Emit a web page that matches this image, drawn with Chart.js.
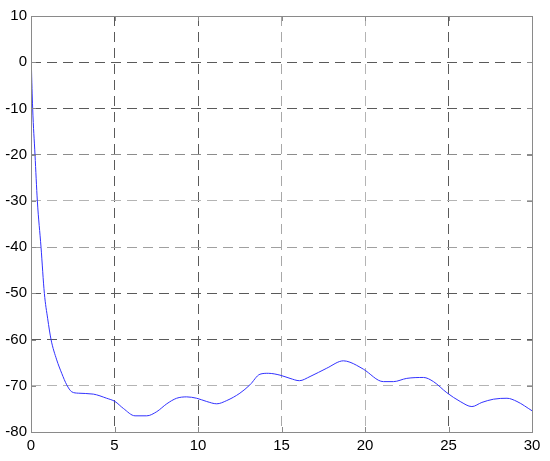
<!DOCTYPE html>
<html>
<head>
<meta charset="utf-8">
<script src="https://cdn.jsdelivr.net/npm/chart.js@4/dist/chart.umd.min.js"></script>
<style>
  html, body { margin: 0; padding: 0; background: #fff; }
  #wrap { width: 550px; height: 461px; }
</style>
</head>
<body>
<div id="wrap"><canvas id="grafico"></canvas></div>
<script>
'use strict';

// Valores (tiempo, respuesta)
const tiempos = [0, 0.02, 0.1, 0.24, 0.38, 0.6, 0.8, 1.0, 1.2, 1.54, 1.84, 2.14, 2.44, 2.83, 3.73, 4.53, 5.03, 5.53, 6.23, 6.93, 7.53, 8.13, 8.72, 9.32, 9.92, 10.52, 11.12, 11.72, 12.51, 13.11, 13.71, 14.21, 14.91, 15.51, 16.07, 16.71, 17.71, 18.71, 19.1, 19.9, 21.1, 21.7, 22.5, 23.5, 24.1, 24.9, 25.7, 26.4, 27.0, 27.7, 28.5, 29.1, 30];
const valores = [4.2, 0, -10, -20, -30, -40, -50, -55.5, -60, -64.4, -67.3, -69.8, -71.3, -71.6, -71.8, -72.7, -73.4, -74.9, -76.5, -76.5, -75.6, -73.9, -72.7, -72.4, -72.7, -73.4, -73.9, -73.2, -71.6, -69.8, -67.5, -67.3, -67.7, -68.4, -68.9, -68.0, -66.2, -64.6, -64.9, -66.4, -69.1, -69.1, -68.4, -68.2, -69.1, -71.5, -73.4, -74.5, -73.6, -72.9, -72.7, -73.4, -75.4];

const ejeX = { min: 0, max: 30, paso: 5 };
const ejeY = { min: -80, max: 10, paso: 10 };

// Tonos de la rejilla (la imagen original mezcla grises oscuros y claros)
const grisX = { 5: '#5a5a5a', 10: '#5a5a5a', 15: '#a8a8a8', 20: '#b4b4b4', 25: '#5a5a5a' };
const grisY = { 0: '#5a5a5a', '-10': '#5a5a5a', '-20': '#8c8c8c', '-30': '#b4b4b4', '-40': '#a0a0a0', '-50': '#5a5a5a', '-60': '#5a5a5a', '-70': '#b4b4b4' };

const puntos = tiempos.map((t, i) => ({ x: t, y: valores[i] }));

// Marco completo y marcas hacia dentro, al estilo MATLAB
const marco = {
    id: 'marco',
    afterDraw(chart) {
        const { ctx, chartArea: a, scales } = chart;
        ctx.save();
        ctx.strokeStyle = '#8a8a8a';
        ctx.lineWidth = 1;
        ctx.strokeRect(a.left + 0.5, a.top + 0.5, a.right - a.left, a.bottom - a.top);
        ctx.beginPath();
        scales.x.ticks.forEach(t => {
            const px = Math.round(scales.x.getPixelForValue(t.value)) + 0.5;
            ctx.moveTo(px, a.bottom); ctx.lineTo(px, a.bottom - 5);
            ctx.moveTo(px, a.top); ctx.lineTo(px, a.top + 5);
        });
        scales.y.ticks.forEach(t => {
            const py = Math.round(scales.y.getPixelForValue(t.value)) + 0.5;
            ctx.moveTo(a.left, py); ctx.lineTo(a.left + 5, py);
            ctx.moveTo(a.right, py); ctx.lineTo(a.right - 5, py);
        });
        ctx.stroke();
        ctx.restore();
    }
};

new Chart(document.getElementById('grafico'), {
    type: 'scatter',
    data: {
        datasets: [{
            data: puntos,
            showLine: true,
            borderColor: 'rgb(50,50,255)',
            borderWidth: 1,
            pointRadius: 0,
            cubicInterpolationMode: 'monotone',
            fill: false
        }]
    },
    options: {
        responsive: true,
        maintainAspectRatio: false,
        animation: false,
        layout: { padding: { top: 16, right: 18, left: 0, bottom: 0 } },
        plugins: { legend: { display: false }, tooltip: { enabled: false } },
        scales: {
            x: {
                type: 'linear',
                min: ejeX.min,
                max: ejeX.max,
                afterFit: s => { s.height = 29; },
                ticks: {
                    stepSize: ejeX.paso,
                    color: '#000',
                    padding: 5,
                    maxRotation: 0,
                    font: { family: 'Liberation Sans', size: 15 }
                },
                grid: {
                    drawTicks: false,
                    lineWidth: 1,
                    color: c => grisX[c.tick.value] || 'rgba(0,0,0,0)'
                },
                border: { display: false, dash: [10, 6] }
            },
            y: {
                min: ejeY.min,
                max: ejeY.max,
                afterFit: s => { s.width = 31; },
                ticks: {
                    stepSize: ejeY.paso,
                    color: '#000',
                    padding: 4,
                    font: { family: 'Liberation Sans', size: 15 }
                },
                grid: {
                    drawTicks: false,
                    lineWidth: 1,
                    color: c => grisY[c.tick.value] || 'rgba(0,0,0,0)'
                },
                border: { display: false, dash: [10, 6] }
            }
        }
    },
    plugins: [marco]
});
</script>
</body>
</html>
